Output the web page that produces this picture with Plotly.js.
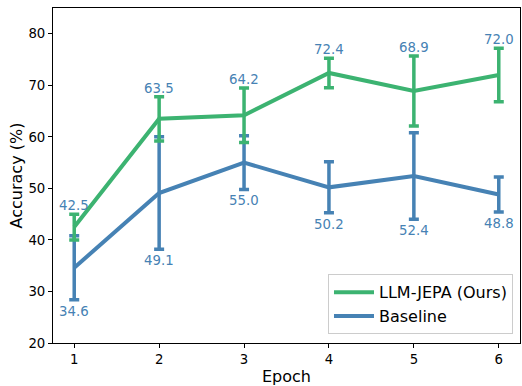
<!DOCTYPE html>
<html>
<head>
<meta charset="utf-8">
<script src="https://cdn.plot.ly/plotly-3.0.1.min.js"></script>
<style>html,body{margin:0;padding:0;background:#fff;}#chart{width:522px;height:386px;}</style>
</head>
<body>
<div id="chart"></div>
<script>
const epochs = [1, 2, 3, 4, 5, 6];
const jepaMean = [42.5, 63.5, 64.2, 72.4, 68.9, 72.0];
const jepaErr = [2.5, 4.3, 5.3, 2.85, 6.8, 5.2];
const baseMean = [34.6, 49.1, 55.0, 50.2, 52.4, 48.8];
const baseErr = [6.2, 10.9, 5.2, 4.95, 8.4, 3.4];
const yTicks = [20, 30, 40, 50, 60, 70, 80];

const GREEN = '#3cb371';
const BLUE = '#4682b4';
const FONT = 'DejaVu Sans, sans-serif';

const base = {
  x: epochs, y: baseMean, type: 'scatter', mode: 'lines',
  name: 'Baseline', legendrank: 2,
  line: {color: BLUE, width: 4},
  error_y: {type: 'data', array: baseErr, visible: true, color: BLUE, thickness: 3.5, width: 5}
};
const jepa = {
  x: epochs, y: jepaMean, type: 'scatter', mode: 'lines',
  name: 'LLM-JEPA (Ours)', legendrank: 1,
  line: {color: GREEN, width: 4},
  error_y: {type: 'data', array: jepaErr, visible: true, color: GREEN, thickness: 3.5, width: 5}
};

const annotations = [];
epochs.forEach((e, i) => {
  annotations.push({
    x: e, y: jepaMean[i] + jepaErr[i], xref: 'x', yref: 'y',
    text: jepaMean[i].toFixed(1), showarrow: false,
    yanchor: 'bottom', xanchor: 'center', yshift: -1,
    font: {family: FONT, size: 13.3, color: BLUE}
  });
  annotations.push({
    x: e, y: baseMean[i] - baseErr[i], xref: 'x', yref: 'y',
    text: baseMean[i].toFixed(1), showarrow: false,
    yanchor: 'top', xanchor: 'center', yshift: -2,
    font: {family: FONT, size: 13.3, color: BLUE}
  });
});

const layout = {
  width: 522, height: 386,
  margin: {l: 53, r: 2, t: 8, b: 43},
  paper_bgcolor: '#fff', plot_bgcolor: '#fff',
  font: {family: FONT, size: 13.3, color: '#000'},
  showlegend: true,
  xaxis: {
    range: [0.75, 6.25], tickvals: epochs, ticktext: epochs.map(String),
    showgrid: false, zeroline: false,
    showline: true, mirror: true, linecolor: '#000', linewidth: 1,
    ticks: 'outside', ticklen: 4, tickcolor: '#000',
    title: {text: 'Epoch', font: {family: FONT, size: 16, color: '#000'}, standoff: 6}
  },
  yaxis: {
    range: [20, 85], tickvals: yTicks,
    showgrid: false, zeroline: false,
    showline: true, mirror: true, linecolor: '#000', linewidth: 1,
    ticks: 'outside', ticklen: 4, tickcolor: '#000',
    title: {text: 'Accuracy (%)', font: {family: FONT, size: 16, color: '#000'}, standoff: 1}
  },
  legend: {
    x: 0.985, y: 0.026, xanchor: 'right', yanchor: 'bottom',
    bgcolor: 'rgba(255,255,255,0.8)', bordercolor: '#cccccc', borderwidth: 1,
    tracegroupgap: 0, itemwidth: 40,
    font: {family: FONT, size: 16, color: '#000'}
  },
  annotations: annotations
};

Plotly.newPlot('chart', [base, jepa], layout, {displayModeBar: false, staticPlot: true});
</script>
</body>
</html>
